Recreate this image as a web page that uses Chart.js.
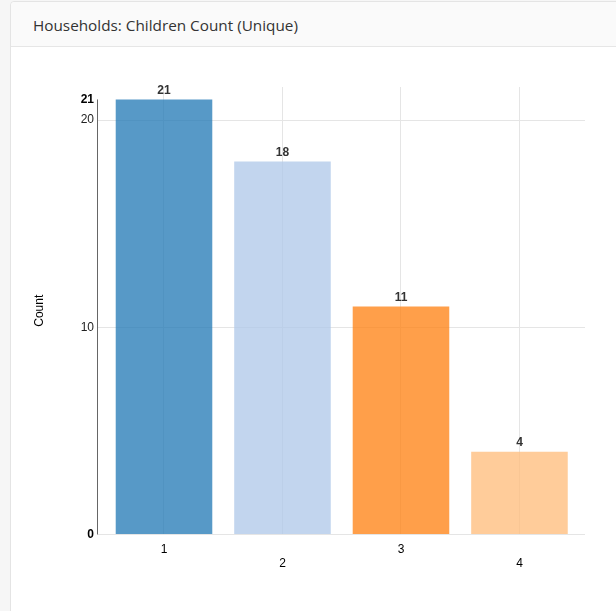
<!DOCTYPE html>
<html>
<head>
<meta charset="utf-8">
<script src="https://cdn.jsdelivr.net/npm/chart.js@4.4.1/dist/chart.umd.min.js"></script>
<style>
  html, body { margin: 0; padding: 0; }
  body { width: 616px; height: 611px; background: #f6f6f6; overflow: hidden; position: relative; }
  .panel {
    position: absolute; left: 10px; top: 1px; width: 700px; height: 700px;
    background: #fff; border: 1px solid #e4e4e4; border-radius: 4px;
  }
  .panel-heading {
    height: 44px; background: #fafafa; border-bottom: 1px solid #e6e6e6;
    border-radius: 4px 4px 0 0;
    font: 15.3px "Open Sans", sans-serif; color: #333;
    line-height: 46px; padding-left: 22px;
  }
  #chart { position: absolute; left: 0; top: 0; }
</style>
</head>
<body>
<div class="panel"><div class="panel-heading">Households: Children Count (Unique)</div></div>
<canvas id="chart" width="616" height="611"></canvas>
<script>
// children per household and how many households
const categories = ["1", "2", "3", "4"];
const counts = [21, 18, 11, 4];
const barColors = [
  "rgba(31, 119, 180, 0.75)",
  "rgba(174, 199, 232, 0.75)",
  "rgba(255, 127, 14, 0.75)",
  "rgba(255, 187, 120, 0.75)",
];
const yTicks = [0, 10, 20, 21];
const yMaxTick = 21;

const fontFamily = "'Liberation Sans', Arial, sans-serif";

// bold numbers above each bar
const valueLabels = {
  id: "valueLabels",
  afterDatasetsDraw(chart) {
    const ctx = chart.ctx;
    const meta = chart.getDatasetMeta(0);
    ctx.save();
    ctx.font = "bold 12px " + fontFamily;
    ctx.fillStyle = "#333";
    ctx.textAlign = "center";
    ctx.textBaseline = "middle";
    meta.data.forEach((bar, i) => {
      ctx.fillText(String(counts[i]), bar.x, bar.y - 9);
    });
    ctx.restore();
  },
};

// y axis domain line, from 0 up to the top tick only
const yDomainLine = {
  id: "yDomainLine",
  afterDraw(chart) {
    const y = chart.scales.y;
    const ctx = chart.ctx;
    const x = Math.round(chart.chartArea.left) - 0.5;
    ctx.save();
    ctx.strokeStyle = "rgba(0, 0, 0, 0.6)";
    ctx.lineWidth = 1;
    ctx.beginPath();
    ctx.moveTo(x, y.getPixelForValue(yMaxTick));
    ctx.lineTo(x, y.getPixelForValue(0));
    ctx.stroke();
    ctx.restore();
  },
};

new Chart(document.getElementById("chart").getContext("2d"), {
  type: "bar",
  data: {
    datasets: [
      {
        label: "Count",
        data: categories.map((c, i) => ({ x: i + 1, y: counts[i] })),
        backgroundColor: barColors,
        borderWidth: 0,
        categoryPercentage: 1,
        barPercentage: 0.815,
      },
    ],
  },
  options: {
    responsive: false,
    animation: false,
    layout: { padding: { top: 87, right: 31, left: 0, bottom: 0 } },
    plugins: {
      legend: { display: false },
      tooltip: { enabled: false },
    },
    scales: {
      x: {
        type: "linear",
        offset: false,
        min: 0.443,
        max: 4.553,
        afterBuildTicks: (scale) => {
          scale.ticks = categories.map((c, i) => ({ value: i + 1 }));
        },
        afterFit: (scale) => { scale.height = 76.5; },
        border: { display: false },
        grid: { color: "#e5e5e5", drawTicks: false, offset: false },
        ticks: {
          autoSkip: false,
          maxRotation: 0,
          padding: 7.5,
          color: "#000",
          font: { family: fontFamily, size: 12 },
          callback: (value) => {
            const i = Math.round(value) - 1;
            const label = categories[i];
            return i % 2 ? ["", label] : label;
          },
        },
      },
      y: {
        min: 0,
        max: 21.6,
        afterBuildTicks: (scale) => {
          scale.ticks = yTicks.map((v) => ({ value: v }));
        },
        afterFit: (scale) => { scale.width = 98; },
        border: { display: false },
        grid: {
          drawTicks: false,
          color: (c) => (c.tick && c.tick.value === yMaxTick ? "rgba(0,0,0,0)" : "#e5e5e5"),
        },
        ticks: {
          padding: 4,
          color: (c) => (c.tick.value === 0 || c.tick.value === yMaxTick ? "#000" : "#222"),
          font: (c) => ({
            family: fontFamily,
            size: 12,
            weight: c.tick && (c.tick.value === 0 || c.tick.value === yMaxTick) ? "bold" : "normal",
          }),
        },
        title: {
          display: true,
          text: "Count",
          color: "#000",
          font: { family: fontFamily, size: 12 },
          padding: { top: 32, bottom: 0 },
        },
      },
    },
  },
  plugins: [valueLabels, yDomainLine],
});
</script>
</body>
</html>
